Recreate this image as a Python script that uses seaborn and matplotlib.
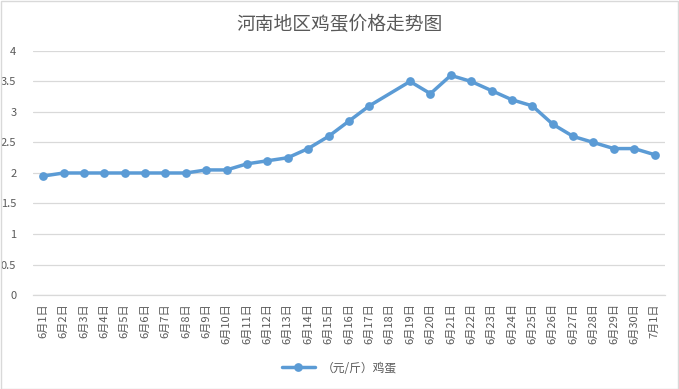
import numpy as np
import pandas as pd
import matplotlib
matplotlib.use('Agg')
import matplotlib.pyplot as plt
import seaborn as sns
from matplotlib.patches import Rectangle

# Data
dates = ['6月%d日' % d for d in range(1, 31)] + ['7月1日']
prices = [1.95, 2.0, 2.0, 2.0, 2.0, 2.0, 2.0, 2.0, 2.05, 2.05,
          2.15, 2.2, 2.25, 2.4, 2.6, 2.85, 3.1, np.nan, 3.5, 3.3,
          3.6, 3.5, 3.35, 3.2, 3.1, 2.8, 2.6, 2.5, 2.4, 2.4, 2.3]
series_name = '（元/斤）鸡蛋'

df = pd.DataFrame({'pos': range(len(dates)), 'date': dates, 'price': prices})
df = df.dropna()

sns.set_style('white')
plt.rcParams['font.family'] = ['Noto Sans CJK SC', 'DejaVu Sans']

fig = plt.figure(figsize=(6.79, 3.89), dpi=100)
ax = fig.add_axes([0.0486, 0.2416, 0.9305, 0.6274])

blue = '#5B9BD5'
sns.lineplot(data=df, x='pos', y='price', ax=ax, color=blue, linewidth=2.5,
             marker='o', markersize=6.3, markeredgewidth=0, label=series_name)

ax.set_xlim(-0.5, len(dates) - 0.5)
ax.set_ylim(0, 4)
ax.set_yticks(np.arange(0, 4.01, 0.5))
ax.set_yticklabels(['0', '0.5', '1', '1.5', '2', '2.5', '3', '3.5', '4'])
ax.set_xticks(range(len(dates)))
ax.set_xticklabels(dates, rotation=90, va='top')
ax.set_xticks(np.arange(-0.5, len(dates), 1), minor=True)
ax.tick_params(axis='x', which='major', length=0, pad=6, labelsize=8, labelcolor='#595959')
ax.tick_params(axis='x', which='minor', length=5, color='#D9D9D9', width=0.9)
ax.tick_params(axis='y', length=0, pad=12, labelsize=8, labelcolor='#595959')
for lbl in ax.get_yticklabels():
    lbl.set_horizontalalignment('right')

ax.yaxis.grid(True, color='#D9D9D9', linewidth=0.9)
ax.set_axisbelow(True)
for side in ['left', 'right', 'top']:
    ax.spines[side].set_visible(False)
ax.spines['bottom'].set_color('#D9D9D9')
ax.spines['bottom'].set_linewidth(0.9)
ax.set_xlabel('')
ax.set_ylabel('')

fig.suptitle('河南地区鸡蛋价格走势图', y=0.965, fontsize=13.5, color='#595959')

leg = ax.legend(loc='center', frameon=False, fontsize=8.5, handlelength=2.8,
                handletextpad=0.6)
leg.set_bbox_to_anchor((0.5, 1 - 368 / 389), transform=fig.transFigure)
for t in leg.get_texts():
    t.set_color('#595959')

fig.patches.append(Rectangle((0.001, 0.001), 0.997, 0.997, transform=fig.transFigure,
                             fill=False, edgecolor='#D9D9D9', linewidth=1))

fig.savefig('out.png', dpi=100)
